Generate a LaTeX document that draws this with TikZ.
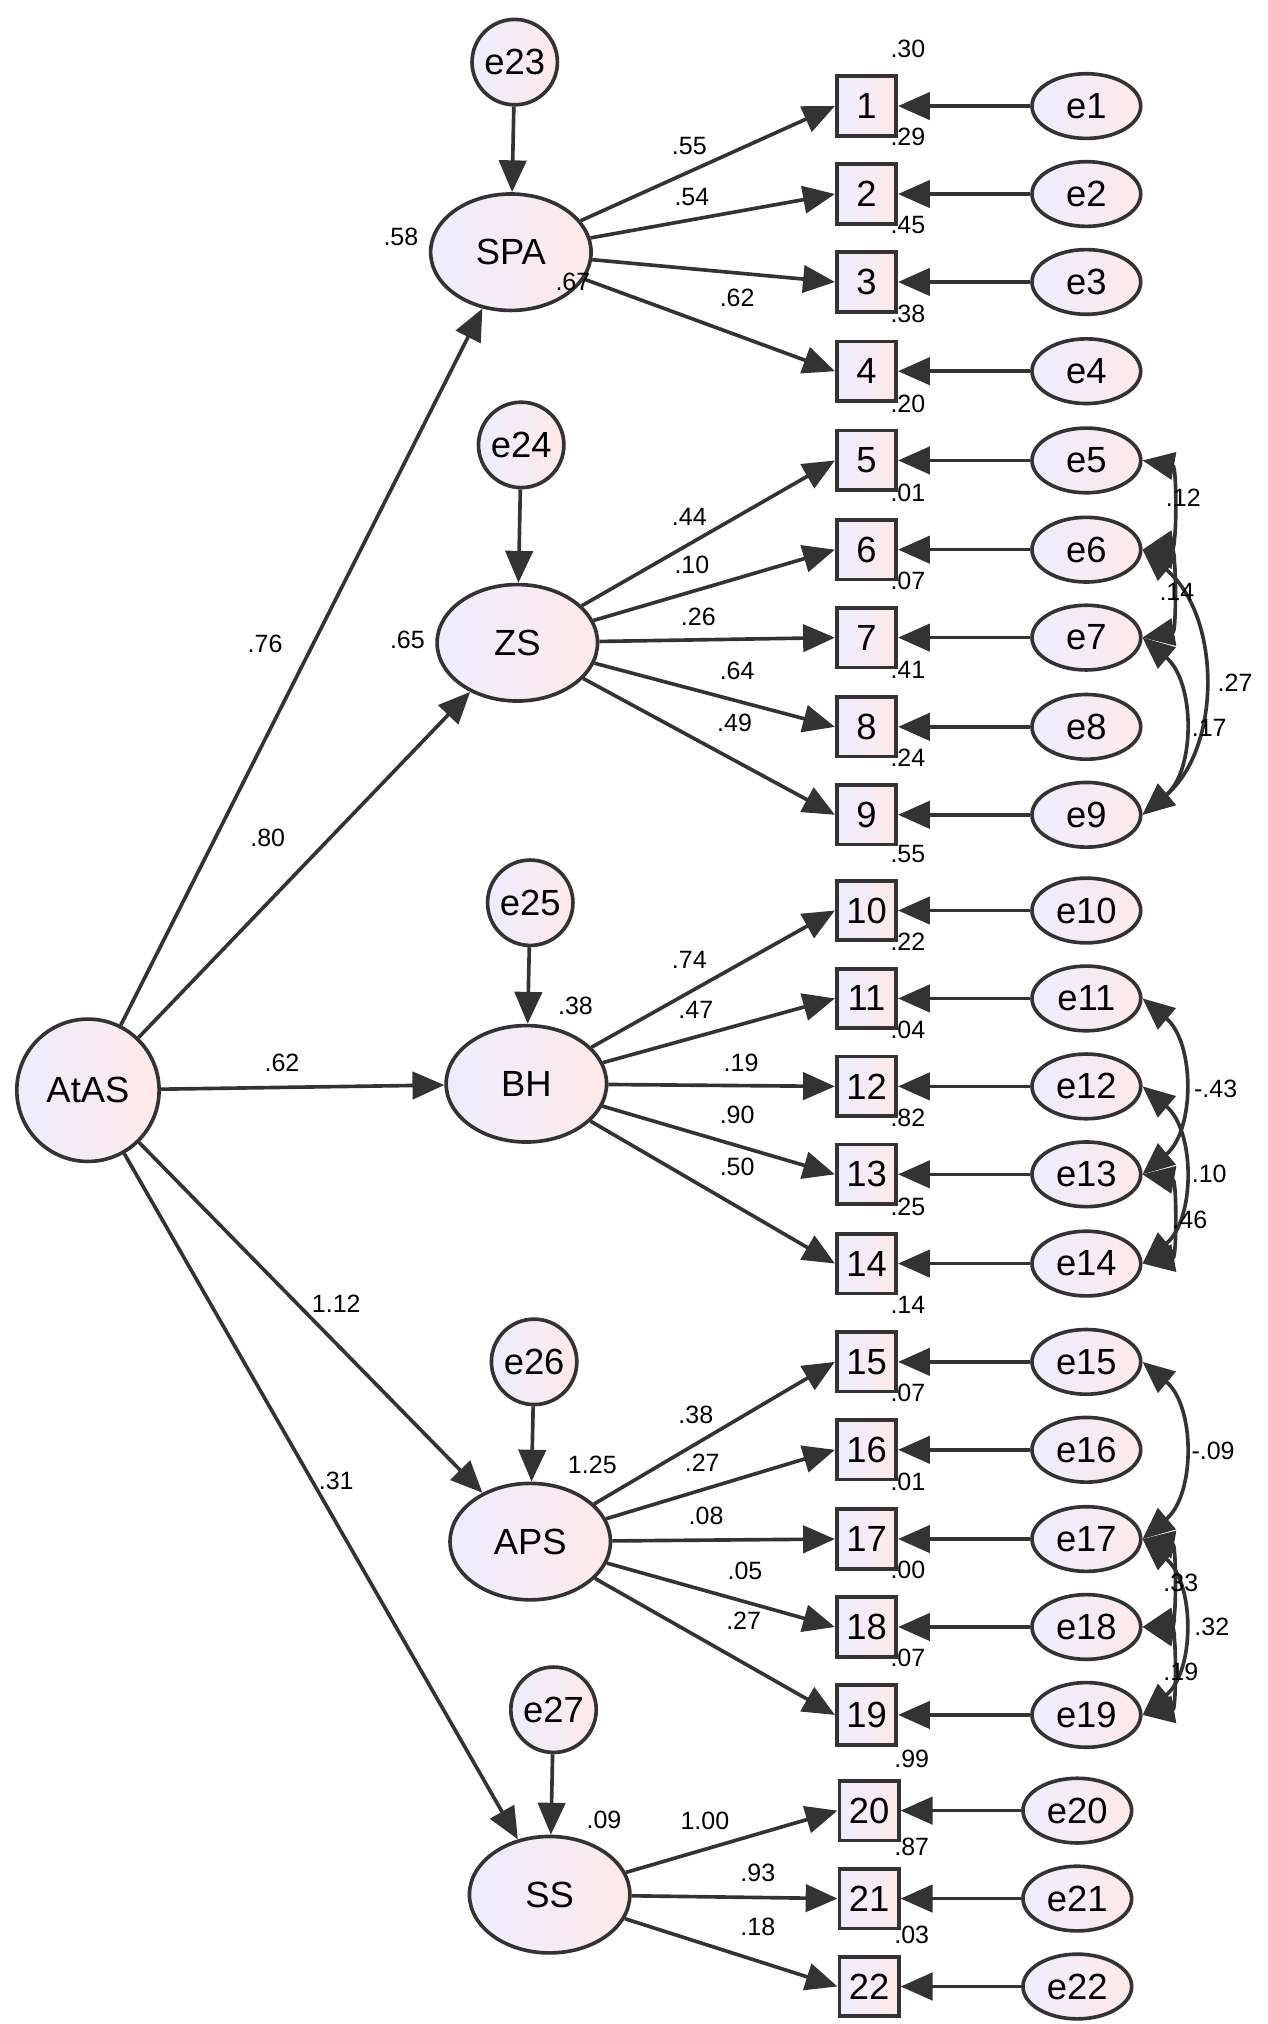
\documentclass[tikz,border=0pt]{standalone}
\usepackage{fontspec}
\setmainfont{Liberation Sans}
\usetikzlibrary{shapes.geometric,arrows.meta}
\begin{document}
\begin{tikzpicture}
    [x=0.01cm,y=-0.01cm,%%%%%%%%%%%%%%%%%%%%%%%%%%%%%%
        shd/.style={draw=black!80,thick,left color=blue!7,right color=pink!35},
        lat/.style={ellipse,shd,minimum width=1.24cm,minimum height=0.9cm,font=\fontsize{8}{9}\selectfont},
        obs/.style={rectangle,shd,minimum size=0.46cm,inner sep=0pt,font=\fontsize{8}{9}\selectfont},
        err/.style={ellipse,shd,minimum width=0.84cm,minimum height=0.5cm,inner sep=0pt,font=\fontsize{8}{9}\selectfont},
        res/.style={circle,shd,minimum size=0.66cm,inner sep=0pt,font=\fontsize{8}{9}\selectfont},
        val/.style={font=\fontsize{5.5}{6}\selectfont,inner sep=0pt},
        arr/.style={-{Triangle[length=7pt,width=6pt]},thick,black!80},
        cov/.style={{Triangle[length=7pt,width=6pt]}-{Triangle[length=7pt,width=6pt]},thick,black!80},
    ]%%%%%%%%%%%%%%%%%%%%%%%%%%%%%%
\useasboundingbox (0,0) rectangle (980,1565);
% latent variables
\node[circle,shd,minimum size=1.1cm,inner sep=0pt,font=\fontsize{8}{9}\selectfont] (AtAS) at (68,843) {AtAS};
\node[lat] (SPA) at (395,195) {SPA};
\node[lat] (ZS) at (400,497) {ZS};
\node[lat] (BH) at (407,838) {BH};
\node[lat] (APS) at (410,1192) {APS};
\node[lat] (SS) at (425,1465) {SS};
\node[res] (e23) at (398,48) {e23};
\node[res] (e24) at (403,344) {e24};
\node[res] (e25) at (410,698) {e25};
\node[res] (e26) at (413,1053) {e26};
\node[res] (e27) at (428,1322) {e27};
\foreach \f/\r in {SPA/e23,ZS/e24,BH/e25,APS/e26,SS/e27}
    \draw[arr] (\r) -- (\f);
\foreach \f in {SPA,ZS,BH,APS,SS}
    \draw[arr] (AtAS) -- (\f);
% indicators and their errors
\foreach \i/\y/\r in {1/82/.30,2/150/.29,3/218/.45,4/287/.38,5/356/.20,6/425/.01,7/493/.07,8/562/.41,9/630/.24,
    10/704/.55,11/772/.22,12/840/.04,13/908/.82,14/977/.25,15/1053/.14,16/1121/.07,17/1190/.01,18/1258/.00,19/1326/.07}{
    \node[obs] (o\i) at (670,\y) {\i};
    \node[err] (e\i) at (840,\y) {e\i};
    \node[val] at (702,\y-44) {\r};
    \draw[arr] (e\i) -- (o\i);
}
\foreach \i/\y/\r in {20/1400/.99,21/1468/.87,22/1536/.03}{
    \node[obs] (o\i) at (672,\y) {\i};
    \node[err] (e\i) at (833,\y) {e\i};
    \node[val] at (705,\y-40) {\r};
    \draw[arr] (e\i) -- (o\i);
}
\foreach \i in {1,...,4} \draw[arr] (SPA) -- (o\i.west);
\foreach \i in {5,...,9} \draw[arr] (ZS) -- (o\i.west);
\foreach \i in {10,...,14} \draw[arr] (BH) -- (o\i.west);
\foreach \i in {15,...,19} \draw[arr] (APS) -- (o\i.west);
\foreach \i in {20,...,22} \draw[arr] (SS) -- (o\i.west);
% covariances
\draw[cov] (e5.east) to[bend left=80] (e6.east);
\draw[cov] (e6.east) to[bend left=80] (e7.east);
\draw[cov] (e6.east) to[bend left=50] (e9.east);
\draw[cov] (e7.east) to[bend left=50] (e9.east);
\draw[cov] (e11.east) to[bend left=50] (e13.east);
\draw[cov] (e12.east) to[bend left=50] (e14.east);
\draw[cov] (e13.east) to[bend left=80] (e14.east);
\draw[cov] (e15.east) to[bend left=50] (e17.east);
\draw[cov] (e17.east) to[bend left=80] (e18.east);
\draw[cov] (e17.east) to[bend left=50] (e19.east);
\draw[cov] (e18.east) to[bend left=80] (e19.east);
% values
\foreach \t/\x/\y in {.55/533/113,.54/535/152,.67/443/218,.62/570/230,
    .44/533/400,.10/535/437,.26/540/477,.64/570/519,.49/568/559,
    .74/533/742,.47/538/781,.19/573/822,.90/570/862,.50/570/902,
    .38/538/1094,.27/543/1131,.08/546/1172,.05/576/1215,.27/575/1253,
    1.00/545/1408,.93/586/1448,.18/586/1490,
    .58/310/183,.65/315/495,.38/445/778,1.25/458/1133,.09/467/1407,
    .76/205/498,.80/207/648,.62/218/822,1.12/260/1008,.31/260/1145,
    .12/915/385,.14/910/458,.27/955/528,.17/935/563,-.43/940/842,.10/935/908,.46/920/943,
    -.09/938/1122,.33/913/1224,.32/937/1258,.19/913/1293}
    \node[val] at (\x,\y) {\t};
\end{tikzpicture}
\end{document}
